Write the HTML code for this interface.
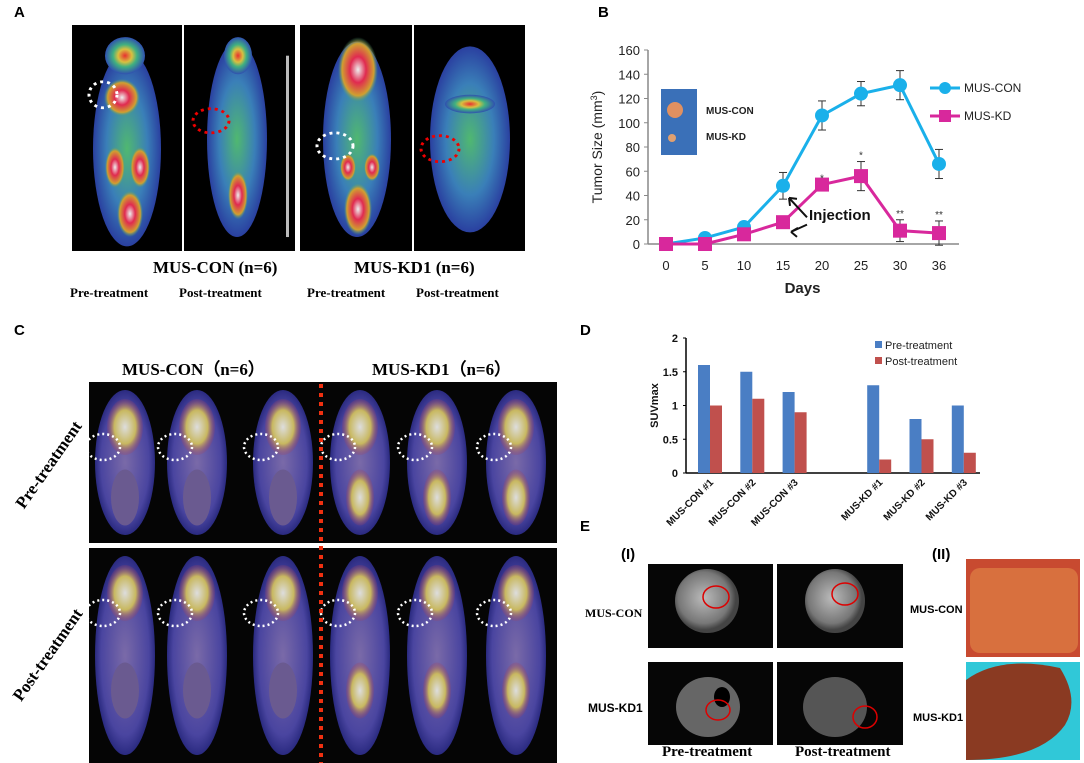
<!DOCTYPE html>
<html><head><meta charset="utf-8"><style>
body{margin:0;width:1084px;height:763px;background:#fff;position:relative;overflow:hidden;font-family:"Liberation Sans",sans-serif}
.abs{position:absolute}
.lbl{font-weight:bold;font-size:15px}
.serif{font-family:"Liberation Serif",serif;font-weight:bold}
</style></head><body>
<div class="abs lbl" style="left:14px;top:4px">A</div>
<div class="abs lbl" style="left:598px;top:4px">B</div>
<div class="abs lbl" style="left:14px;top:322px">C</div>
<div class="abs lbl" style="left:580px;top:322px">D</div>
<div class="abs lbl" style="left:580px;top:518px">E</div>

<!-- Panel A -->
<svg class="abs" style="left:0;top:0" width="560" height="330">
<defs>
<radialGradient id="pet" cx="50%" cy="50%" r="50%"><stop offset="0" stop-color="#e83030"/><stop offset="0.35" stop-color="#d8c040"/><stop offset="0.6" stop-color="#40b080"/><stop offset="1" stop-color="#3050b0"/></radialGradient>
<radialGradient id="pet2" cx="50%" cy="50%" r="50%"><stop offset="0" stop-color="#50b870"/><stop offset="0.6" stop-color="#3a7fb8"/><stop offset="1" stop-color="#2a40a0"/></radialGradient>
<radialGradient id="hot" cx="50%" cy="50%" r="50%"><stop offset="0" stop-color="#eee"/><stop offset="0.4" stop-color="#e02a50"/><stop offset="0.8" stop-color="#d0a030"/><stop offset="1" stop-color="#40a080" stop-opacity="0"/></radialGradient>
</defs>
<g transform="translate(0,25) scale(1,0.93) translate(0,-27)">
<g><rect x="72" y="27" width="110" height="243" fill="#000"/>
<ellipse cx="127" cy="160" rx="34" ry="105" fill="url(#pet2)"/><ellipse cx="125" cy="60" rx="20" ry="20" fill="url(#pet)"/>
<ellipse cx="122" cy="105" rx="18" ry="20" fill="url(#hot)"/><ellipse cx="115" cy="180" rx="10" ry="22" fill="url(#hot)"/><ellipse cx="140" cy="180" rx="10" ry="22" fill="url(#hot)"/><ellipse cx="130" cy="230" rx="13" ry="25" fill="url(#hot)"/>
<ellipse cx="103" cy="102" rx="14" ry="14" fill="none" stroke="#fff" stroke-width="3" stroke-dasharray="3 4"/></g>
<g><rect x="184" y="27" width="111" height="243" fill="#000"/>
<ellipse cx="237" cy="150" rx="30" ry="105" fill="url(#pet2)"/><ellipse cx="238" cy="60" rx="14" ry="20" fill="url(#pet)"/><ellipse cx="238" cy="210" rx="10" ry="26" fill="url(#hot)"/>
<rect x="286" y="60" width="3" height="195" fill="#bbb"/>
<ellipse cx="211" cy="130" rx="18" ry="13" fill="none" stroke="#e00" stroke-width="3" stroke-dasharray="3 4"/></g>
<g><rect x="300" y="27" width="112" height="243" fill="#000"/>
<ellipse cx="357" cy="150" rx="34" ry="105" fill="url(#pet2)"/><ellipse cx="358" cy="75" rx="20" ry="35" fill="url(#hot)"/><ellipse cx="358" cy="225" rx="14" ry="28" fill="url(#hot)"/><ellipse cx="348" cy="180" rx="8" ry="15" fill="url(#hot)"/><ellipse cx="372" cy="180" rx="8" ry="15" fill="url(#hot)"/>
<ellipse cx="335" cy="157" rx="18" ry="14" fill="none" stroke="#fff" stroke-width="3" stroke-dasharray="3 4"/></g>
<g><rect x="414" y="27" width="111" height="243" fill="#000"/>
<ellipse cx="470" cy="150" rx="40" ry="100" fill="url(#pet2)"/><ellipse cx="470" cy="112" rx="25" ry="10" fill="url(#pet)"/>
<ellipse cx="440" cy="160" rx="19" ry="14" fill="none" stroke="#e00" stroke-width="3" stroke-dasharray="3 4"/></g>
</g>
</svg>
<div class="abs serif" style="left:153px;top:258px;font-size:17px">MUS-CON (n=6)</div>
<div class="abs serif" style="left:354px;top:258px;font-size:17px">MUS-KD1 (n=6)</div>
<div class="abs serif" style="left:70px;top:285px;font-size:13px">Pre-treatment</div>
<div class="abs serif" style="left:179px;top:285px;font-size:13px">Post-treatment</div>
<div class="abs serif" style="left:307px;top:285px;font-size:13px">Pre-treatment</div>
<div class="abs serif" style="left:416px;top:285px;font-size:13px">Post-treatment</div>

<!-- Panel B chart -->
<svg id="chartB" class="abs" style="left:560px;top:30px" width="524" height="280"></svg>

<!-- Panel C -->
<div class="abs serif" style="left:122px;top:355px;font-size:17px">MUS-CON（n=6）</div>
<div class="abs serif" style="left:372px;top:355px;font-size:17px">MUS-KD1（n=6）</div>
<div class="abs serif" style="left:-2px;top:455px;font-size:17px;transform:rotate(-55deg)">Pre-treatment</div>
<div class="abs serif" style="left:-6px;top:645px;font-size:17px;transform:rotate(-55deg)">Post-treatment</div>
<svg class="abs" style="left:0;top:380px" width="580" height="383">
<defs>
<radialGradient id="cb" cx="50%" cy="50%" r="50%"><stop offset="0" stop-color="#7a6aa8"/><stop offset="0.8" stop-color="#4a45a0"/><stop offset="1" stop-color="#2a2a80"/></radialGradient>
<radialGradient id="cw" cx="50%" cy="50%" r="50%"><stop offset="0" stop-color="#ddd"/><stop offset="0.6" stop-color="#c8b860"/><stop offset="1" stop-color="#a04060" stop-opacity="0.2"/></radialGradient>
</defs>
<rect x="89" y="2" width="468" height="161" fill="#050505"/>
<rect x="89" y="168" width="468" height="215" fill="#050505"/>
<g id="cmice"></g>
<line x1="321" y1="-5" x2="321" y2="383" stroke="#f03010" stroke-width="4" stroke-dasharray="4 5"/>
</svg>

<!-- Panel D chart -->
<svg id="chartD" class="abs" style="left:600px;top:330px" width="380" height="200"></svg>

<!-- Panel E -->
<div class="abs lbl" style="left:621px;top:546px;font-size:15px">(I)</div>
<div class="abs lbl" style="left:932px;top:546px;font-size:15px">(II)</div>
<div class="abs serif" style="left:585px;top:606px;font-size:12px">MUS-CON</div>
<div class="abs" style="left:588px;top:701px;font-size:12px;font-weight:bold">MUS-KD1</div>
<div class="abs" style="left:910px;top:604px;font-size:11px;font-weight:bold">MUS-CON</div>
<div class="abs" style="left:913px;top:712px;font-size:11px;font-weight:bold">MUS-KD1</div>
<div class="abs serif" style="left:662px;top:744px;font-size:15px">Pre-treatment</div>
<div class="abs serif" style="left:795px;top:744px;font-size:15px">Post-treatment</div>
<svg class="abs" style="left:0;top:0" width="1084" height="763" pointer-events="none">
<defs><radialGradient id="mri" cx="45%" cy="45%" r="50%"><stop offset="0" stop-color="#bbb"/><stop offset="0.8" stop-color="#777"/><stop offset="1" stop-color="#444"/></radialGradient></defs>
<rect x="648" y="564" width="125" height="84" fill="#060606"/><ellipse cx="707" cy="601" rx="32" ry="32" fill="url(#mri)"/><ellipse cx="716" cy="597" rx="13" ry="11" fill="none" stroke="#d00" stroke-width="1.5"/>
<rect x="777" y="564" width="126" height="84" fill="#060606"/><ellipse cx="835" cy="601" rx="30" ry="32" fill="url(#mri)"/><ellipse cx="845" cy="594" rx="13" ry="11" fill="none" stroke="#d00" stroke-width="1.5"/>
<rect x="648" y="662" width="125" height="83" fill="#060606"/><ellipse cx="708" cy="707" rx="32" ry="30" fill="#666"/><ellipse cx="722" cy="697" rx="8" ry="10" fill="#000"/><ellipse cx="718" cy="710" rx="12" ry="10" fill="none" stroke="#d00" stroke-width="1.5"/>
<rect x="777" y="662" width="126" height="83" fill="#060606"/><ellipse cx="835" cy="707" rx="32" ry="30" fill="#555"/><ellipse cx="865" cy="717" rx="12" ry="11" fill="none" stroke="#d00" stroke-width="1.5"/>
<rect x="966" y="559" width="114" height="98" fill="#c84a30"/><rect x="970" y="568" width="108" height="85" fill="#d8703e" rx="10"/>
<rect x="966" y="662" width="114" height="98" fill="#30c8d8"/><path d="M966 680 Q1000 655 1060 668 Q1080 700 1065 725 Q1040 760 966 760Z" fill="#8a3a22"/>
</svg>

<script>
// Panel B data
const daysB = ["0","5","10","15","20","25","30","36"];
const conB = [0,5,14,48,106,124,131,66];
const conErr = [0,0,0,11,12,10,12,12];
const kdB = [0,0,8,18,49,56,11,9];
const kdErr = [0,0,0,0,0,12,9,10];
const yTicksB = [0,20,40,60,80,100,120,140,160];

// Panel D data
const catsD = ["MUS-CON #1","MUS-CON #2","MUS-CON #3","","MUS-KD #1","MUS-KD #2","MUS-KD #3"];
const preD = [1.6,1.5,1.2,null,1.3,0.8,1.0];
const postD = [1.0,1.1,0.9,null,0.2,0.5,0.3];
const yTicksD = [0,0.5,1,1.5,2];

const NS="http://www.w3.org/2000/svg";
function mk(p,t,a,txt){const e=document.createElementNS(NS,t);for(const k in a)e.setAttribute(k,a[k]);if(txt!==undefined)e.textContent=txt;p.appendChild(e);return e;}

(function(){
const s=document.getElementById('chartB');
const x0=88, dx=39, y0=214, ky=194/160;
const X=i=>106+i*dx, Y=v=>y0-v*ky;
mk(s,'line',{x1:x0,y1:Y(0),x2:x0,y2:Y(160),stroke:'#888','stroke-width':1.5});
mk(s,'line',{x1:x0,y1:Y(0),x2:X(7)+20,y2:Y(0),stroke:'#888','stroke-width':1.5});
yTicksB.forEach(t=>{
 const tk=mk(s,'line',{x1:x0-4,y1:Y(t),x2:x0,y2:Y(t),stroke:'#888'});
 
 
 const l=mk(s,'text',{x:x0-8,y:Y(t)+5,'text-anchor':'end','font-size':13,fill:'#222'},t);
 
 
});
daysB.forEach((d,i)=>{const l=mk(s,'text',{x:X(i),y:Y(0)+26,'text-anchor':'middle','font-size':13,fill:'#222'},d);
 
 });
const xt=mk(s,'text',{x:X(3.5),y:Y(0)+49,'text-anchor':'middle','font-size':15,'font-weight':'bold',fill:'#222'},'Days');


const yt=mk(s,'text',{x:0,y:0,'text-anchor':'middle','font-size':14,fill:'#222',transform:`translate(42,${Y(80)}) rotate(-90)`});
yt.innerHTML='Tumor Size (mm<tspan dy="-5" font-size="9">3</tspan><tspan dy="5">)</tspan>';


const ph=mk(s,'rect',{x:101,y:59,width:36,height:66,fill:'#3a70b8'});


mk(s,'circle',{cx:115,cy:80,r:8,fill:'#e09060'});mk(s,'circle',{cx:112,cy:108,r:4,fill:'#e0a070'});
mk(s,'text',{x:146,y:84,'font-size':10,'font-weight':'bold',fill:'#222'},'MUS-CON');
mk(s,'text',{x:146,y:110,'font-size':10,'font-weight':'bold',fill:'#222'},'MUS-KD');
function series(vals,err,col,shape,name){
 const pts=vals.map((v,i)=>X(i)+','+Y(v)).join(' ');
 const pl=mk(s,'polyline',{points:pts,fill:'none',stroke:col,'stroke-width':3});
 
 
 vals.forEach((v,i)=>{
  if(err[i]>0){mk(s,'line',{x1:X(i),y1:Y(v-err[i]),x2:X(i),y2:Y(v+err[i]),stroke:'#333'});
   mk(s,'line',{x1:X(i)-4,y1:Y(v+err[i]),x2:X(i)+4,y2:Y(v+err[i]),stroke:'#333'});
   mk(s,'line',{x1:X(i)-4,y1:Y(v-err[i]),x2:X(i)+4,y2:Y(v-err[i]),stroke:'#333'});}
  const m= shape==='c'?mk(s,'circle',{cx:X(i),cy:Y(v),r:7,fill:col}):mk(s,'rect',{x:X(i)-7,y:Y(v)-7,width:14,height:14,fill:col});
  
  
 });
}
series(conB,conErr,'#1ab0ea','c','mus-con');
series(kdB,kdErr,'#d8289c','s','mus-kd');
[[4,'*'],[5,'*'],[6,'**'],[7,'**']].forEach(([i,t])=>{const v=kdB[i]+kdErr[i];mk(s,'text',{x:X(i),y:Y(v)-3,'text-anchor':'middle','font-size':10,fill:'#333'},t);});
mk(s,'text',{x:X(3)+26,y:Y(20),'font-size':15,'font-weight':'bold',fill:'#111'},'Injection');
mk(s,'path',{d:`M${X(3)+24},${Y(22)} L${X(3)+6},${Y(38)} M${X(3)+6},${Y(38)} l8,1 M${X(3)+6},${Y(38)} l1,8`,stroke:'#111','stroke-width':2,fill:'none'});
mk(s,'path',{d:`M${X(3)+24},${Y(16)} L${X(3)+8},${Y(10)} l7,-4 M${X(3)+8},${Y(10)} l6,5`,stroke:'#111','stroke-width':2,fill:'none'});
const lg=mk(s,'g',{});


mk(lg,'line',{x1:370,y1:58,x2:400,y2:58,stroke:'#1ab0ea','stroke-width':3});
mk(lg,'circle',{cx:385,cy:58,r:6,fill:'#1ab0ea'});
mk(lg,'text',{x:404,y:62,'font-size':12,fill:'#222'},'MUS-CON');
mk(lg,'line',{x1:370,y1:86,x2:400,y2:86,stroke:'#d8289c','stroke-width':3});
mk(lg,'rect',{x:379,y:80,width:12,height:12,fill:'#d8289c'});
mk(lg,'text',{x:404,y:90,'font-size':12,fill:'#222'},'MUS-KD');
})();

(function(){
const s=document.getElementById('chartD');
const x0=86, y0=143, ky=135/2, dx=42.3;
const X=i=>110+i*dx, Y=v=>y0-v*ky;
mk(s,'line',{x1:x0,y1:Y(0),x2:x0,y2:Y(2),stroke:'#000','stroke-width':1.5});
mk(s,'line',{x1:x0,y1:Y(0),x2:X(6)+22,y2:Y(0),stroke:'#000','stroke-width':1.5});
yTicksD.forEach(t=>{const l=mk(s,'text',{x:x0-8,y:Y(t)+4,'text-anchor':'end','font-size':11,'font-weight':'bold',fill:'#111'},String(t));
 
 
 mk(s,'line',{x1:x0-3,y1:Y(t),x2:x0,y2:Y(t),stroke:'#000'});});
const yt=mk(s,'text',{x:0,y:0,'text-anchor':'middle','font-size':11,'font-weight':'bold',fill:'#111',transform:`translate(58,${Y(1)}) rotate(-90)`},'SUVmax');


catsD.forEach((c,i)=>{
 if(preD[i]!==null){
  const b1=mk(s,'rect',{x:X(i)-12,y:Y(preD[i]),width:12,height:preD[i]*ky,fill:'#4a7ec4'});
  
  
  const b2=mk(s,'rect',{x:X(i),y:Y(postD[i]),width:12,height:postD[i]*ky,fill:'#c0504d'});
  
  
 }
 if(c){const l=mk(s,'text',{x:0,y:0,'text-anchor':'end','font-size':10,'font-weight':'bold',fill:'#111',transform:`translate(${X(i)+4},${Y(0)+10}) rotate(-45)`},c);
  
  }
});
const lg=mk(s,'g',{});


mk(lg,'rect',{x:275,y:11,width:7,height:7,fill:'#4a7ec4'});
mk(lg,'text',{x:285,y:19,'font-size':11,fill:'#222'},'Pre-treatment');
mk(lg,'rect',{x:275,y:27,width:7,height:7,fill:'#c0504d'});
mk(lg,'text',{x:285,y:35,'font-size':11,fill:'#222'},'Post-treatment');
})();

(function(){
const g=document.getElementById('cmice');
const cxs=[125,197,283,360,437,516];
[0,1].forEach(r=>{
 cxs.forEach((cx,i)=>{
  const top=r?168:2, h=r?215:161, cy=top+h/2;
  mk(g,'ellipse',{cx:cx,cy:cy,rx:30,ry:h/2-8,fill:'url(#cb)'});
  mk(g,'ellipse',{cx:cx,cy:top+45,rx:18,ry:28,fill:'url(#cw)'});
  mk(g,'ellipse',{cx:cx,cy:cy+35,rx:14,ry:28,fill:i>=3?'url(#cw)':'#6a5a90'});
  const d=mk(g,'ellipse',{cx:cx-22,cy:top+65,rx:17,ry:13,fill:'none',stroke:'#fff','stroke-width':2.5,'stroke-dasharray':'2 3'});
  
  
 });
});
})();
</script>
</body></html>
